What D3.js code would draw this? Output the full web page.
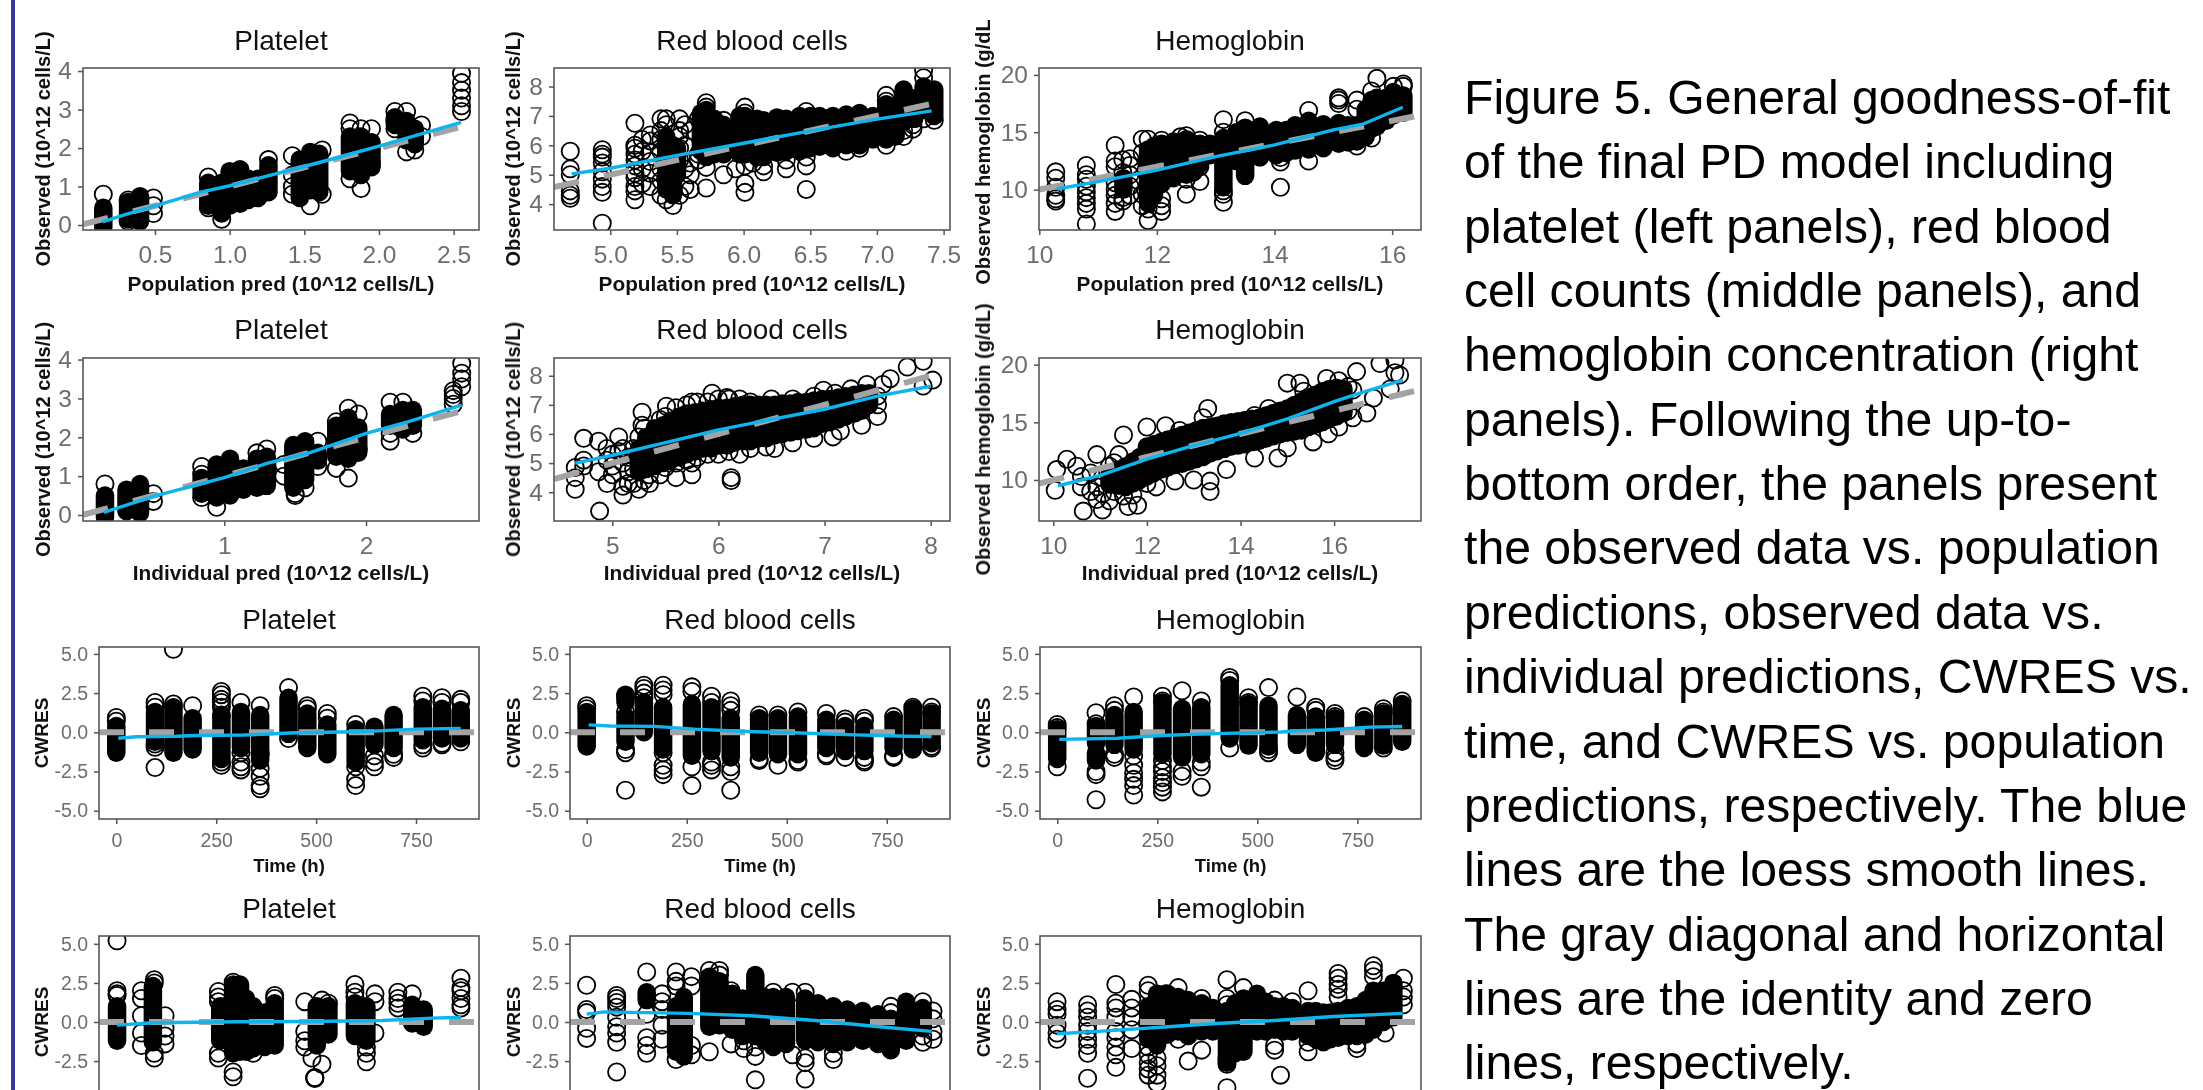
<!DOCTYPE html>
<html>
<head>
<meta charset="utf-8">
<script src="https://cdn.jsdelivr.net/npm/d3@7"></script>
<style type="text/css">
	html, body { margin: 0; background: #fff; overflow: hidden; }
	svg { display: block; font-family: "Liberation Sans", Arial, sans-serif; }
	.plots { filter: blur(0.45px); }
	.tick line { stroke: #555; stroke-width: 1.5; }
	.tick text { fill: #6e6e6e; }
	.domain { display: none; }
	.ptitle { fill: #111; text-anchor: middle; }
	.atitle { fill: #111; font-weight: bold; text-anchor: middle; }
</style>
</head>
<body>
<svg id="fig" width="2203" height="1090"></svg>
<script type="text/javascript">

// tick labels
const pltPopX = [0.5, 1, 1.5, 2, 2.5], pltPopXL = ["0.5", "1.0", "1.5", "2.0", "2.5"]
const rbcPopX = [5, 5.5, 6, 6.5, 7, 7.5], rbcPopXL = ["5.0", "5.5", "6.0", "6.5", "7.0", "7.5"]
const hgbPopX = [10, 12, 14, 16]
const pltIpX = [1, 2]
const rbcIpX = [5, 6, 7, 8]
const hgbIpX = [10, 12, 14, 16]
const pltObsY = [0, 1, 2, 3, 4]
const rbcObsY = [4, 5, 6, 7, 8]
const hgbObsY = [10, 15, 20]
const timeX = [0, 250, 500, 750]
const resY = [-5, -2.5, 0, 2.5, 5], resYL = ["-5.0", "-2.5", "0.0", "2.5", "5.0"]
const resCutY = [-2.5, 0, 2.5, 5], resCutYL = ["-2.5", "0.0", "2.5", "5.0"]

// dense = overplotted solid runs [x, low, high]; open = single circles [x, y, y, ...]
const pltPopDense = [[.154,-.05,.45],[.32,.15,.6],[.4,.1,.75],[.857,.5,1.1],[.947,.3,1.1],[1,.5,1.4],[1.07,.55,1.45],[1.125,.65,1.2],[1.19,.7,1.2],[1.26,.85,1.55],[1.47,.7,1.7],[1.54,.9,1.9],[1.6,.85,1.85],[1.806,1.4,2.3],[1.88,1.3,2.3],[1.95,1.5,2.15],[2.107,2.6,2.8],[2.185,2.2,2.7],[2.24,2.1,2.5]]
const pltPopOpen = [[.154,.8],[.32,.65,.1],[.49,.5,.3,.7],[.857,1.25,.45],[.947,.15],[1.26,1.7],[1.42,1.8,1,.8,1.3],[1.54,.5],[1.62,.8,1.95],[1.806,2.65,2.5,1.2],[1.88,.95,2.5],[1.95,2.5,1.6],[2.107,2.95,2.7,2.5],[2.185,2.95,1.9],[2.24,1.95],[2.285,2.6,2.3],[2.553,3.94,3.7,3.5,3.3,3.1,2.95]]
const rbcPopDense = [[5.42,4.5,6.3],[5.47,4.3,6],[5.5,5,5.9],[5.68,5.8,7.1],[5.72,5.6,7.2],[5.78,5.7,6.9],[5.85,5.7,6.7],[5.97,5.7,7],[6.01,5.7,7],[6.1,5.6,6.9],[6.15,5.6,6.85],[6.25,5.75,6.95],[6.32,5.8,6.9],[6.42,5.8,7],[6.5,5.9,7],[6.57,5.95,7],[6.67,5.9,7],[6.77,6,7.05],[6.87,6,7.1],[6.97,6.2,7],[7.07,6.2,7.4],[7.14,6.3,7.3],[7.2,6.8,7.9],[7.28,6.9,7.6],[7.35,7.2,8],[7.43,7,7.9]]
const rbcPopOpen = [[4.7,5.8,5.2,5,4.45,4.3,4.2],[4.94,5.85,5.7,5.6,5.4,5.1,4.85,4.6,4.4,3.35],[5.185,6.75,6,5.9,5.7,5.5,5.3,5.05,4.9,4.6,4.45,4.15],[5.24,6.2,5.8,5.2,4.7],[5.3,6.35,6.15,5.75,5.45,5.05,4.6],[5.38,6.9,6.5,6.2,5.8,5.2,4.8,4.3],[5.42,6.9,6.7,4.15],[5.47,3.95],[5.52,6.9,6.5,6.3,5.9,5.5,4.3],[5.56,6.7,6,5.2,4.6],[5.6,6.5,5.4,5,4.5],[5.66,6.9,5.5,5.7],[5.72,7.45,7.3,5.25,4.55],[5.85,6.85,5],[5.94,5.2],[6.01,7.3,7.1,4.4,4.7,5.3],[6.07,5.4],[6.15,5.1,5.3],[6.32,5.2,5.5],[6.47,7.15,5.6,5.3,4.5],[6.77,5.8],[6.87,5.9],[7.07,7.7,7.5,6],[7.2,6.5,6.3],[7.27,6.55,6.7],[7.35,8.3,8.55,6.9],[7.43,6.85]]
const hgbPopDense = [[11.43,10,11],[11.85,8.8,13.5],[11.95,9.5,13.8],[12.08,10.5,14],[12.28,11,14.2],[12.5,11.3,14.4],[12.62,11.5,14],[12.73,12.2,14],[12.9,13,14],[13.13,10.2,12.5],[13.13,13.2,14.5],[13.35,12.5,15],[13.5,11.2,15.4],[13.75,12.8,15.5],[14.03,13,15.2],[14.2,13.2,15.2],[14.35,13.4,15.6],[14.58,13.5,16],[14.83,13.6,15.7],[15.09,14,15.8],[15.25,14.1,15.6],[15.4,14.2,15.6],[15.55,14.6,17],[15.65,15.3,17.8],[15.74,15.5,18],[15.9,16,18],[16.02,16.8,18.5],[16.19,16.7,18.2]]
const hgbPopOpen = [[10.28,11.55,11,10.2,9.5,9.2,9],[10.8,12.1,11.3,10.9,10.3,9.8,9.3,8.8,8.3,7],[11.29,13.85,12.5,12,10.6,10,9.5,8.8,8.1],[11.42,12.6,11.5,9.3,9],[11.54,12.7,12.1,11.3,10.3,9.5],[11.75,14.4,13.2,9.6,8.6],[11.85,14.4,8.3,7.3],[12.08,8.1,8.6,9.2,14.3],[12.5,9.6,14.7,10.9],[12.4,14.6],[12.73,14.3,12,10.7],[13.13,16.1,15,9.9,9.6,8.9],[13.5,16],[14.1,10.2,12.4,12.8],[14.58,16.9,12.5],[15.09,18,17.8,17.5],[15.4,17.8,17,13.8],[15.65,14.5,18.6],[15.74,19.7],[16.02,19,16.5],[16.19,19.2,19]]

const pltIpDense = [[.158,-.05,.5],[.31,.1,.65],[.405,.05,.8],[.84,.55,.95],[.946,.45,1.3],[1.04,.5,1.45],[1.134,.65,1.2],[1.23,.7,1.45],[1.3,.75,1.5],[1.487,.7,1.8],[1.57,.9,1.9],[1.66,1.4,1.6],[1.79,1.5,2.3],[1.875,1.45,2.5],[1.945,1.6,2.25],[2.17,2.3,2.6],[2.26,2.2,2.7],[2.33,2.3,2.7]]
const pltIpOpen = [[.158,.8],[.5,.55,.35],[.84,1.25,1.05,.45],[.946,.2],[1.23,1.6],[1.3,1.7],[1.42,1.0,1.3],[1.5,.5,.55],[1.57,.7],[1.66,1.9,1.5,1.25],[1.79,1.2,2.4],[1.875,2.75,.95],[1.945,2.6,1.7],[2.17,2.9,2.1,1.9],[2.26,2.9],[2.33,2.1],[2.615,3.2,3.1,3,2.85],[2.675,3.9,3.65,3.5,3.3]]
const rbcIpDense = [[5.25,4.7,5.5],[5.32,4.8,5.9],[5.4,4.9,6.2],[5.48,5,6.3],[5.55,5.1,6.45],[5.63,5.2,6.6],[5.7,5.3,6.7],[5.78,5.4,6.75],[5.85,5.5,6.8],[5.93,5.5,6.85],[6,5.6,6.9],[6.08,5.6,6.9],[6.15,5.7,6.95],[6.23,5.75,7],[6.3,5.75,7],[6.38,5.85,7],[6.45,5.85,7],[6.53,5.95,7],[6.6,6,7.05],[6.68,6.05,7.05],[6.75,6.1,7.1],[6.83,6.15,7.1],[6.9,6.2,7.15],[6.98,6.35,7.2],[7.05,6.4,7.2],[7.13,6.5,7.25],[7.2,6.6,7.3],[7.28,6.7,7.35],[7.35,6.8,7.4],[7.42,7,7.4]]
const rbcIpOpen = [[4.65,4.85,4.5,4.1],[4.73,5.85,4.9,5.1],[4.87,5.75,4.7],[4.88,3.35],[4.95,5.1,5.5,4.3],[5,4.6,4.9,5.3],[5.06,5.9,5.4],[5.1,3.9,4.2,5.5,5],[5.15,4.7,4.3,5.2],[5.2,5.5,4.3,4.8],[5.25,4.1,5.9],[5.28,6.75,6.3],[5.3,6.2,4.4],[5.35,4.3,4.6],[5.45,4.6,6.5],[5.5,4.85,6.6],[5.51,6.95],[5.6,4.5,5,6.9],[5.7,5.1,7],[5.75,4.6,5,7.1],[5.8,5.2,7.1],[5.9,5.3,7.1],[5.94,7.4],[6,5.3,7.2],[6.08,7.25],[6.1,7.2,5.4],[6.12,4.4,4.5],[6.2,5.3,7.2],[6.3,5.5,7.1],[6.45,5.55],[6.5,7.2],[6.53,5.5],[6.7,5.7,7.2],[6.9,5.85,7.3],[6.99,7.5],[7.08,5.9],[7.1,7.4],[7.15,6.1],[7.25,7.55],[7.35,6.3],[7.4,7.7],[7.5,6.6,7,7.3],[7.55,7.7],[7.62,7.9],[7.78,8.3],[7.93,7.65,8.5],[8.02,7.85]]
const hgbIpDense = [[11.2,9.6,10.4],[11.4,9.5,10.9],[11.55,9.4,11.2],[11.7,9.7,11.6],[11.85,10,12],[12,10.3,12.9],[12.15,10.6,13.1],[12.3,10.9,13.3],[12.45,11.1,13.5],[12.6,11.3,13.7],[12.75,11.4,13.9],[12.9,11.6,14.1],[13.05,11.8,14.3],[13.2,12,14.5],[13.35,12.3,14.6],[13.5,12.5,14.7],[13.65,12.7,14.9],[13.8,12.9,15],[13.95,13,15.1],[14.1,13.1,15.2],[14.25,13.3,15.3],[14.4,13.4,15.4],[14.55,13.6,15.6],[14.7,13.8,15.8],[14.85,14,16],[15,14.1,16.2],[15.15,14.2,16.5],[15.3,14.3,16.8],[15.45,14.6,17.2],[15.6,14.8,17.4],[15.75,15,17.7],[15.9,15.3,17.9],[16.05,15.5,18],[16.2,15.8,17.9]]
const hgbIpOpen = [[10.04,9.1],[10.07,10.9],[10.29,11.8],[10.5,11.2],[10.6,10.3,9.4],[10.64,7.3],[10.8,10.6,9],[10.93,12.2,9.4,8.3],[11.05,7.4,8.8,10.2],[11.2,8.2,11.2],[11.3,9,11.5],[11.4,12.2],[11.5,13.9,8.6],[11.6,7.7],[11.7,8.7],[11.8,7.8],[12,14.6,9.7],[12.2,9.4],[12.4,14.7],[12.6,9.9],[12.7,14.3],[13,10],[13.3,16.2],[13.35,9,9.9],[13.2,15.4],[13.7,10.9],[14.3,11.9,15.6],[14.6,16.2],[14.8,11.9],[15,12.8,18.4],[15.27,18.4],[15.35,17.7],[15.55,13.3],[15.84,18.8],[15.88,14],[16.1,14.6,18.6],[16.3,18.1,16],[16.4,15.4,17.8],[16.48,19.4],[16.7,15.8],[16.84,17.1],[16.98,20.1],[17.2,17.9],[17.3,19.3,20.4],[17.4,19.1]]

const pltTimeDense = [[0,-1.3,.4],[97,-.6,1.3],[143,-1.3,1.6],[191,-1.1,.9],[263,-1.7,1],[312,-1,1.3],[360,-1.8,1.1],[431,-.1,2.2],[478,-1,1.2],[528,-1.4,.5],[599,-1.9,.2],[646,-.8,.35],[694,-1,1.1],[767,-.5,1.6],[815,-.4,1.5],[862,-.4,1.4]]
const pltTimeOpen = [[0,.95,.7],[97,1.9,1.6,-.75,-.95,-2.25],[143,5.3,1.8],[191,1.7],[263,2.6,2.4,2.1,1.9,1.6,1.1,-1.9,-2.1],[312,1.9,-1.3,-1.9,-2.2,-2.4],[360,1.7,-1.4,-2.3,-2.8,-3.4,-3.6],[431,2.85,-.4],[478,1.7,1.5],[528,1.2,.9],[599,.5,-2.2,-3,-3.4],[646,-1.5,-1.9,-2.2],[694,-1.6,-1.4],[767,2.3,2,-.8,-1],[815,2.2,1.9,-.7,-.8],[862,2.1,1.9,-.6]]
const rbcTimeDense = [[0,-.9,1.3],[97,-.6,1],[97,1.9,2.4],[143,0,1.9],[191,-1.1,1.6],[263,-1.5,1.8],[312,-1.2,1.6],[360,-1.6,.9],[431,-1.3,.9],[478,-1.4,.9],[528,-1.4,1],[599,-1,.8],[646,-1.2,.4],[694,-1.2,.4],[767,-1,.8],[815,-1.1,1.5],[862,-.7,1.2]]
const rbcTimeOpen = [[0,1.7,1.5],[97,2.3,1.3,-1.1,-1.3,-3.7],[143,3,2.8,2.5,2.2],[191,3,2.7,2.4,-1.3,-2.1,-2.4,-2.7],[263,2.9,2.6,-2.2,-3.4],[312,2.3,1.9,-1.9,-2.1,-2.4],[360,2,1.7,1.4,-2.2,-2.5,-3.7],[431,1.1,-1.7,-1.8],[478,1.1,-2.1],[528,1.3,-1.8,-1.9],[599,1.2,-1.4,-1.5],[646,.85,.65,-1.6],[694,.9,.7,-1.6,-1.8,-1.9],[767,1,-1.5,-1.6],[815,1.6],[862,1.6,1.3,-.9,-1]]
const hgbTimeDense = [[0,-1.7,.2],[97,-.7,.4],[97,-1.8,-1.3],[143,-.8,1.1],[191,-1.1,1.3],[263,.2,1.9],[263,-1.4,0],[312,-1.6,1.5],[360,-1.4,1.6],[431,-.4,3],[478,-.85,1.8],[528,-.9,1.7],[599,-.8,1.1],[646,-1.3,1],[694,-.8,.9],[767,-1,.8],[815,-.85,1.2],[862,-.6,1.8]]
const hgbTimeOpen = [[0,.5,.3,-2.2],[97,1.25,.55,-2.5,-2.7,-4.3],[143,1.7,1.4,-1.4,-1.6],[191,2.25,-1.5,-2.1,-2.6,-3,-3.4,-4],[263,2.3,2,-1.8,-2.2,-2.5,-2.9,-3.2,-3.5,-3.8],[312,2.65,-2.5,-2.8],[360,2,-1.9,-2.2,-3.5],[431,3.5,3.3,-1],[478,2.2,1.9],[528,2.85,-1.1,-1.3],[599,2.25],[646,1.6,1.4],[694,1.2,1,-1.3,-1.6,-1.8],[767,1],[815,1.5,1.3,-1],[862,2]]

const pltPredDense = [[.15,-1.2,1],[.4,-1.3,2.3],[.87,-1.2,1],[.96,-2,2.4],[1.008,-1.9,2.4],[1.05,-1.9,1.5],[1.1,-1.7,1],[1.18,-1.6,.6],[1.25,-1.5,1.2],[1.544,-1.5,1],[1.625,-.8,1],[1.81,-.9,1.2],[1.89,-1.2,1],[2.21,-.1,1.1],[2.29,-.3,.8]]
const pltPredOpen = [[.15,5.2,2,1.8,1.7],[.32,2,1.5,.4,-.7,-1.5],[.41,2.7,2.5,-2.3,-2],[.485,.4,-.4,-.9,-1.4],[.857,1.95,1.6,1.3,-2,-2.3],[.96,-3.2,-3.5,2.55],[1.1,-2],[1.25,1.5,1.7],[1.46,1.3,-.6,-1.2,-1.6],[1.51,-2.3],[1.53,-3.6,-3.6,-3.55],[1.58,-2.7,1.4],[1.625,1.2],[1.81,2.4,1.9,1.6],[1.89,-1.6,-2,-2.55],[1.95,1.8,1.3,-.7],[2.11,1.9,1.5,1.2,.9],[2.21,1.8],[2.55,2.8,2.2,2,1.5,1.1,.9]]
const rbcPredDense = [[5.18,1.4,1.9],[5.41,-1.9,1],[5.47,-2.2,1.6],[5.67,-.3,2.9],[5.75,-.2,2.6],[5.85,-.5,1.8],[5.93,-.9,1.5],[6.03,-.9,3],[6.1,-1.2,1.6],[6.17,-1.6,1.6],[6.27,-1.4,1.6],[6.42,-1.2,1.5],[6.52,-1.3,1.2],[6.64,-1.4,1],[6.75,-1.3,.8],[6.87,-1.2,.7],[6.99,-1.4,.5],[7.09,-1.8,.2],[7.21,-1.2,1.3],[7.34,-.4,.9]]
const rbcPredOpen = [[4.71,2.35,.8,.6,-.4,-1.05],[4.945,1.7,1.5,1.25,.95,.3,-.3,-.7,-1.3,-3.2],[5.18,3.2,.5,-1,-1.5,-2],[5.3,1.8,1.3,.8,-.2,-1.1],[5.41,3.2,2.6,2.3,-2.4],[5.53,2.9,2.3,-1.5,-2.1],[5.67,3.3,-1.9],[5.75,3.3,3],[5.84,2,1.3,.7,-1.4],[5.94,-1.2,-1.7],[6.03,-1.6,-2.2,-3.7],[6.17,1.9],[6.32,-2.1,1.9],[6.42,1.9,-2.3,-2.6,-3.65],[6.64,-2,-2.4],[7.09,1,.6],[7.34,1.3,-.9,-1.3],[7.42,.7,.2,-.6,-1.1]]
const hgbPredDense = [[11.85,-1.1,1],[12,-1.5,1.8],[12.18,-.8,1.8],[12.36,-.6,1.6],[12.53,-.9,1.4],[12.76,-.6,1.2],[12.95,-.6,.9],[13.19,-2.6,.7],[13.33,-2,1.2],[13.47,-1.9,1.5],[13.7,-.6,1.8],[13.85,-.6,1.3],[14,-.5,1],[14.15,-.6,1],[14.3,-.6,.9],[14.57,-.9,.7],[14.7,-1.1,.7],[14.83,-1.3,.6],[14.95,-1.1,.6],[15.08,-1,.7],[15.25,-.9,.9],[15.4,-.9,1],[15.55,-.8,1.4],[15.68,-.5,2],[15.85,0,2],[16.02,.3,2.5]]
const hgbPredOpen = [[10.3,1.3,.8,.5,-.2,-.7,-1.1],[10.82,1.1,.7,.3,-.2,-.6,-1.1,-1.5,-2,-3.6],[11.3,2.4,1.2,.9,.3,-.6,-1,-1.6,-2.1,-2.9],[11.57,1.45,.9,.3,-.5,-1.7],[11.85,2.35,2,-1.6,-2.1,-2.6,-3,-3.4],[12,-3.9,-3.4,-2.8,-2.3],[12.15,1.8,-.8],[12.36,2.2,-1.1],[12.53,-2.5],[12.76,1.5,-1.8],[13.19,2.7,1.5,1.1,-2.7,-4.2,-2.4],[13.47,2.2],[14,1.4,-1.5,-1.8],[14.1,-3.4],[14.3,1.3],[14.57,2,-1.3,-1.9],[15.08,3.1,2.8,2.4,2.1,1.6],[15.4,-1.7,-1.4],[15.68,3.6,3.3,2.9],[15.88,-.7,.2,1.2,1.9],[16.19,2.8,2,1.6,1.1]]

// loess lines
const pltPopLoess = [[.15,.08],[.3,.27],[.5,.5],[.8,.85],[1,1.02],[1.25,1.27],[1.5,1.52],[1.75,1.78],[2,2.05],[2.25,2.33],[2.55,2.67]]
const rbcPopLoess = [[4.71,5.03],[5,5.22],[5.5,5.66],[6,6.07],[6.5,6.49],[7,6.89],[7.41,7.17]]
const hgbPopLoess = [[10.3,10.05],[11,10.7],[12,11.7],[13,12.87],[14,13.9],[15,15.2],[15.5,15.7],[16.18,17.18]]
const pltIpLoess = [[.15,.07],[.5,.48],[1,.96],[1.3,1.33],[1.6,1.6],[2,2.1],[2.3,2.4],[2.675,2.83]]
const rbcIpLoess = [[4.65,5],[5,5.27],[5.5,5.7],[6,6.14],[6.5,6.5],[7,6.85],[7.5,7.3],[8,7.64]]
const hgbIpLoess = [[10.1,9.5],[11,10.4],[12,11.8],[12.88,12.85],[14,14.05],[15,15.3],[16,16.8],[16.6,17.6],[17.47,18.67]]
const pltTimeLoess = [[5,-.38],[50,-.28],[150,-.25],[200,-.2],[320,-.17],[450,-.03],[600,.03],[750,.2],[862,.25]]
const rbcTimeLoess = [[5,.47],[60,.4],[170,.38],[270,.2],[400,.05],[520,-.03],[650,-.15],[800,-.25],[862,-.27]]
const hgbTimeLoess = [[5,-.45],[150,-.38],[260,-.2],[370,-.1],[560,.02],[600,.1],[670,.15],[780,.33],[862,.37]]
const pltPredLoess = [[.15,-.2],[.4,-.05],[1,.02],[1.5,.03],[2,.1],[2.35,.25],[2.55,.3]]
const rbcPredLoess = [[4.71,.5],[4.85,.65],[5.5,.55],[6,.4],[6.5,.1],[7,-.3],[7.41,-.6]]
const hgbPredLoess = [[10.3,-.75],[11,-.6],[12,-.35],[13,-.1],[14,.1],[15,.35],[16.18,.55]]

const captionLines = [
	"Figure 5. General goodness-of-fit",
	"of the final PD model including",
	"platelet (left panels), red blood",
	"cell counts (middle panels), and",
	"hemoglobin concentration (right",
	"panels). Following the up-to-",
	"bottom order, the panels present",
	"the observed data vs. population",
	"predictions, observed data vs.",
	"individual predictions, CWRES vs.",
	"time, and CWRES vs. population",
	"predictions, respectively. The blue",
	"lines are the loess smooth lines.",
	"The gray diagonal and horizontal",
	"lines are the identity and zero",
	"lines, respectively."
]

const popTitle = "Population pred (10^12 cells/L)"
const ipTitle = "Individual pred (10^12 cells/L)"
const pltObsTitle = "Observed (10^12 cells/L)"

const rows = {
	pop: { top: 68, bottom: 230, title: 50, xt: 291, tick: 24.5, pad: 10.5, ypad: 6 },
	ip: { top: 358, bottom: 521, title: 339, xt: 580, tick: 24.5, pad: 10.5, ypad: 6 },
	time: { top: 647, bottom: 819, title: 629, xt: 872, tick: 19.5, pad: 9.5, ypad: 6 },
	pred: { top: 936, bottom: 1108, title: 918, xt: 1161, tick: 19.5, pad: 9.5, ypad: 6 }
}
const wideCols = [[83, 479, 50], [554, 950, 520], [1039, 1421, 990]]
const narrowCols = [[99, 479, 48], [570, 950, 520], [1040, 1421, 990]]

const panels = [
	{ row: "pop", col: wideCols[0], name: "Platelet", xd: [.018, 2.67], yd: [-.13, 4.08], xt: pltPopX, xl: pltPopXL, yt: pltObsY, xTitle: popTitle, yTitle: pltObsTitle, dense: pltPopDense, open: pltPopOpen, loess: pltPopLoess },
	{ row: "pop", col: wideCols[1], name: "Red blood cells", xd: [4.578, 7.548], yd: [3.12, 8.63], xt: rbcPopX, xl: rbcPopXL, yt: rbcObsY, xTitle: popTitle, yTitle: pltObsTitle, dense: rbcPopDense, open: rbcPopOpen, loess: rbcPopLoess },
	{ row: "pop", col: wideCols[2], name: "Hemoglobin", xd: [9.995, 16.49], yd: [6.48, 20.6], xt: hgbPopX, yt: hgbObsY, xTitle: popTitle, yTitle: "Observed hemoglobin (g/dL", yShift: 3, dense: hgbPopDense, open: hgbPopOpen, loess: hgbPopLoess },
	{ row: "ip", col: wideCols[0], name: "Platelet", xd: [.003, 2.797], yd: [-.154, 4.04], xt: pltIpX, yt: pltObsY, xTitle: ipTitle, yTitle: pltObsTitle, dense: pltIpDense, open: pltIpOpen, loess: pltIpLoess },
	{ row: "ip", col: wideCols[1], name: "Red blood cells", xd: [4.45, 8.183], yd: [3.01, 8.61], xt: rbcIpX, yt: rbcObsY, xTitle: ipTitle, yTitle: pltObsTitle, dense: rbcIpDense, open: rbcIpOpen, loess: rbcIpLoess },
	{ row: "ip", col: wideCols[2], name: "Hemoglobin", xd: [9.694, 17.857], yd: [6.44, 20.58], xt: hgbIpX, yt: hgbObsY, xTitle: ipTitle, yTitle: "Observed hemoglobin (g/dL)", dense: hgbIpDense, open: hgbIpOpen, loess: hgbIpLoess },
	{ row: "time", col: narrowCols[0], name: "Platelet", xd: [-43.3, 907.7], yd: [-5.53, 5.44], xt: timeX, yt: resY, yl: resYL, xTitle: "Time (h)", yTitle: "CWRES", dense: pltTimeDense, open: pltTimeOpen, loess: pltTimeLoess },
	{ row: "time", col: narrowCols[1], name: "Red blood cells", xd: [-41.7, 908], yd: [-5.53, 5.44], xt: timeX, yt: resY, yl: resYL, xTitle: "Time (h)", yTitle: "CWRES", dense: rbcTimeDense, open: rbcTimeOpen, loess: rbcTimeLoess },
	{ row: "time", col: narrowCols[2], name: "Hemoglobin", xd: [-43, 909], yd: [-5.53, 5.44], xt: timeX, yt: resY, yl: resYL, xTitle: "Time (h)", yTitle: "CWRES", dense: hgbTimeDense, open: hgbTimeOpen, loess: hgbTimeLoess },
	{ row: "pred", col: narrowCols[0], name: "Platelet", xd: [.024, 2.676], yd: [-5.5, 5.5], xt: [], yt: resCutY, yl: resCutYL, yTitle: "CWRES", dense: pltPredDense, open: pltPredOpen, loess: pltPredLoess },
	{ row: "pred", col: narrowCols[1], name: "Red blood cells", xd: [4.58, 7.553], yd: [-5.5, 5.5], xt: [], yt: resCutY, yl: resCutYL, yTitle: "CWRES", dense: rbcPredDense, open: rbcPredOpen, loess: rbcPredLoess },
	{ row: "pred", col: narrowCols[2], name: "Hemoglobin", xd: [10.01, 16.49], yd: [-5.5, 5.5], xt: [], yt: resCutY, yl: resCutYL, yTitle: "CWRES", dense: hgbPredDense, open: hgbPredOpen, loess: hgbPredLoess }
]

const svg = d3.select("#fig")
const plots = svg.append("g").attr("class", "plots")

// purple rule at the left of the slide
plots.append("rect").attr("x", 11).attr("y", 0).attr("width", 4).attr("height", 1090).attr("fill", "#38389c")

panels.forEach((p, i) => {
	const r = rows[p.row]
	const [left, right, yTitleX] = p.col
	const x = d3.scaleLinear().domain(p.xd).range([left, right])
	const y = d3.scaleLinear().domain(p.yd).range([r.bottom, r.top])
	const g = plots.append("g")

	const clipId = "clip" + i
	g.append("clipPath").attr("id", clipId).append("rect")
		.attr("x", left).attr("y", r.top).attr("width", right - left).attr("height", r.bottom - r.top)
	const marks = g.append("g").attr("clip-path", `url(#${clipId})`)

	// overplotted runs
	marks.selectAll("line.dense").data(p.dense).join("line").attr("class", "dense")
		.attr("x1", d => x(d[0])).attr("x2", d => x(d[0]))
		.attr("y1", d => y(d[1])).attr("y2", d => y(d[2]))
		.attr("stroke", "#000").attr("stroke-width", 18.5).attr("stroke-linecap", "round")

	// single circles
	const pts = p.open.flatMap(c => c.slice(1).map(v => [c[0], v]))
	marks.selectAll("circle").data(pts).join("circle")
		.attr("cx", d => x(d[0])).attr("cy", d => y(d[1])).attr("r", 8.6)
		.attr("fill", "none").attr("stroke", "#000").attr("stroke-width", 1.8)

	// identity or zero line, dashes repeat every 50px along x
	const ref = (p.row === "pop" || p.row === "ip") ? [p.xd[0], p.xd[1]] : [0, 0]
	const lineLen = Math.hypot(right - left, y(ref[1]) - y(ref[0]))
	const dash = 25 * lineLen / (right - left)
	marks.append("line")
		.attr("x1", left).attr("x2", right)
		.attr("y1", y(ref[0])).attr("y2", y(ref[1]))
		.attr("stroke", "#a3a3a3").attr("stroke-width", 6).attr("stroke-dasharray", `${dash} ${dash}`)

	marks.append("path").datum(p.loess)
		.attr("d", d3.line().x(d => x(d[0])).y(d => y(d[1])))
		.attr("fill", "none").attr("stroke", "#0db4ee").attr("stroke-width", 3.4)

	g.append("rect").attr("x", left).attr("y", r.top).attr("width", right - left).attr("height", r.bottom - r.top)
		.attr("fill", "none").attr("stroke", "#585858").attr("stroke-width", 1.6)

	const xAxis = d3.axisBottom(x).tickValues(p.xt).tickSize(5).tickPadding(r.pad)
	xAxis.tickFormat((d, k) => p.xl ? p.xl[k] : d)
	const yAxis = d3.axisLeft(y).tickValues(p.yt).tickSize(5).tickPadding(r.ypad)
	yAxis.tickFormat((d, k) => p.yl ? p.yl[k] : d)
	g.append("g").attr("transform", `translate(0,${r.bottom})`).call(xAxis)
		.selectAll("text").style("font-size", r.tick + "px").style("font-family", "inherit")
	g.append("g").attr("transform", `translate(${left},0)`).call(yAxis)
		.selectAll("text").style("font-size", r.tick + "px").style("font-family", "inherit")

	const mid = (left + right) / 2
	g.append("text").attr("class", "ptitle").attr("x", mid).attr("y", r.title)
		.style("font-size", "28px").text(p.name)
	if (p.xTitle) {
		const xSize = p.row === "time" ? "18.5px" : "20.8px"
		g.append("text").attr("class", "atitle").attr("x", mid).attr("y", r.xt)
			.style("font-size", xSize).text(p.xTitle)
	}
	g.append("text").attr("class", "atitle")
		.attr("transform", `translate(${yTitleX},${(r.top + r.bottom) / 2 + (p.yShift || 0)}) rotate(-90)`)
		.style("font-size", p.yTitle === "CWRES" ? "19px" : "20px").text(p.yTitle)
})

// caption on the right
svg.append("g").selectAll("text").data(captionLines).join("text")
	.attr("x", 1464).attr("y", (d, i) => 114 + i * 64.35)
	.style("font-size", "48.15px").attr("fill", "#000").text(d => d)

</script>
</body>
</html>
